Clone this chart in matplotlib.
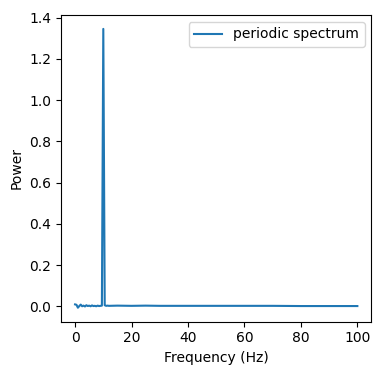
import numpy as np
from matplotlib import pyplot as plt

# frequencies (Hz) and periodic power
freqs = [0, 0.5, 1, 1.5, 2, 2.5, 3, 3.5, 4, 4.5, 5, 5.5, 6, 6.5, 7, 7.5,
         8, 8.5, 9, 9.5, 10, 10.5, 11, 11.5, 12, 15, 20, 25, 30, 35, 40,
         50, 60, 70, 80, 90, 100]
power = [0.010, 0.008, -0.006, 0.002, 0.009, 0.001, 0.004, 0.000, 0.006,
         0.002, 0.004, 0.001, 0.005, 0.002, 0.003, 0.001, 0.004, 0.002,
         0.003, 0.004, 1.345, 0.006, 0.003, 0.004, 0.003, 0.004, 0.003,
         0.004, 0.003, 0.003, 0.003, 0.003, 0.003, 0.003, 0.002, 0.002,
         0.002]

fig = plt.figure(figsize=(3.81, 3.74), dpi=100)
ax = fig.add_axes([0.16, 0.14, 0.815, 0.82])
ax.plot(freqs, power, label="periodic spectrum")
ax.set_xlabel("Frequency (Hz)")
ax.set_ylabel("Power")
ax.legend(loc="upper right")

plt.savefig("out.png", dpi=100)
